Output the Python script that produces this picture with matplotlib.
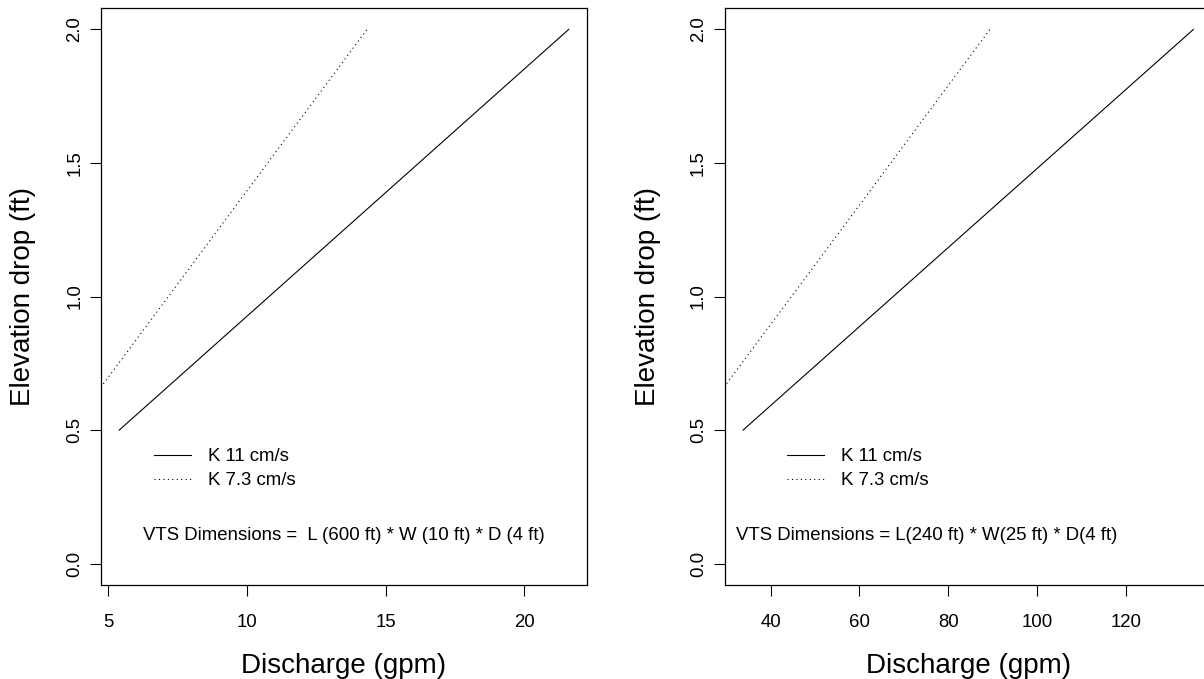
import matplotlib
matplotlib.use('Agg')
import matplotlib.pyplot as plt
import numpy as np

plt.rcParams['font.family'] = ['Liberation Sans', 'DejaVu Sans']

# elevation drop (ft) vs required discharge (gpm) for two K values
elev = [0.5, 0.75, 1.0, 1.25, 1.5, 1.75, 2.0]

q_long_k11  = [5.4, 8.1, 10.8, 13.5, 16.2, 18.9, 21.6]
q_long_k73  = [3.58, 5.38, 7.17, 8.96, 10.75, 12.54, 14.33]

q_wide_k11  = [33.8, 50.7, 67.6, 84.5, 101.4, 118.3, 135.2]
q_wide_k73  = [22.35, 33.5, 44.7, 55.9, 67.05, 78.2, 89.4]

ticks_long = [5, 10, 15, 20]
ticks_wide = [40, 60, 80, 100, 120]
yticks = [0.0, 0.5, 1.0, 1.5, 2.0]

leg_labels = ['K 11 cm/s', 'K 7.3 cm/s']
dims_long = 'VTS Dimensions =  L (600 ft) * W (10 ft) * D (4 ft)'
dims_wide = 'VTS Dimensions = L(240 ft) * W(25 ft) * D(4 ft)'

fs = 13.4

fig = plt.figure(figsize=(12.04, 6.79), dpi=100)
ax0 = fig.add_axes([0.0841, 0.1384, 0.4032, 0.8498])
ax1 = fig.add_axes([0.6022, 0.1384, 0.4040, 0.8498])


def rpad(vals):
    # R-style 4% axis extension
    lo, hi = min(vals), max(vals)
    d = hi - lo
    return lo - 0.04 * d, hi + 0.04 * d


def panel(ax, q1, q2, xt, leg_x, txt_x, txt):
    ax.plot(q1, elev, color='k', lw=0.8, label=leg_labels[0])
    ax.plot(q2, elev, color='k', lw=0.8, ls=(0, (1, 3)), label=leg_labels[1])
    ax.set_xlim(*rpad(q1))
    ax.set_ylim(-0.08, 2.08)
    ax.set_xticks(xt)
    ax.set_xticklabels([str(t) for t in xt])
    ax.set_yticks(yticks)
    ax.set_yticklabels(['%.1f' % t for t in yticks], rotation=90, va='center')
    ax.tick_params(direction='out', length=8, width=0.8, labelsize=fs, colors='k')
    ax.tick_params(axis='x', pad=13)
    ax.tick_params(axis='y', pad=5)
    for sp in ax.spines.values():
        sp.set_linewidth(0.9)
    ax.legend(loc='center left', bbox_to_anchor=(leg_x, 0.356), bbox_transform=ax.transData,
              frameon=False, fontsize=fs, handlelength=2.0, handletextpad=0.9,
              borderpad=0, borderaxespad=0, labelspacing=0.38)
    ax.text(txt_x, 0.105, txt, fontsize=fs, ha='left', va='center')


panel(ax0, q_long_k11, q_long_k73, ticks_long, 6.65, 6.24, dims_long)
panel(ax1, q_wide_k11, q_wide_k73, ticks_wide, 43.7, 32.2, dims_wide)

for cx, cy in [(0.2857, 0.01935), (0.8042, 0.5378)]:
    fig.text(cx, 0.0093, 'Discharge (gpm)', fontsize=20, ha='center', va='baseline')
    fig.text(cy, 0.5633, 'Elevation drop (ft)', fontsize=20, rotation=90, ha='center', va='center')

plt.savefig('out.png', dpi=100)
